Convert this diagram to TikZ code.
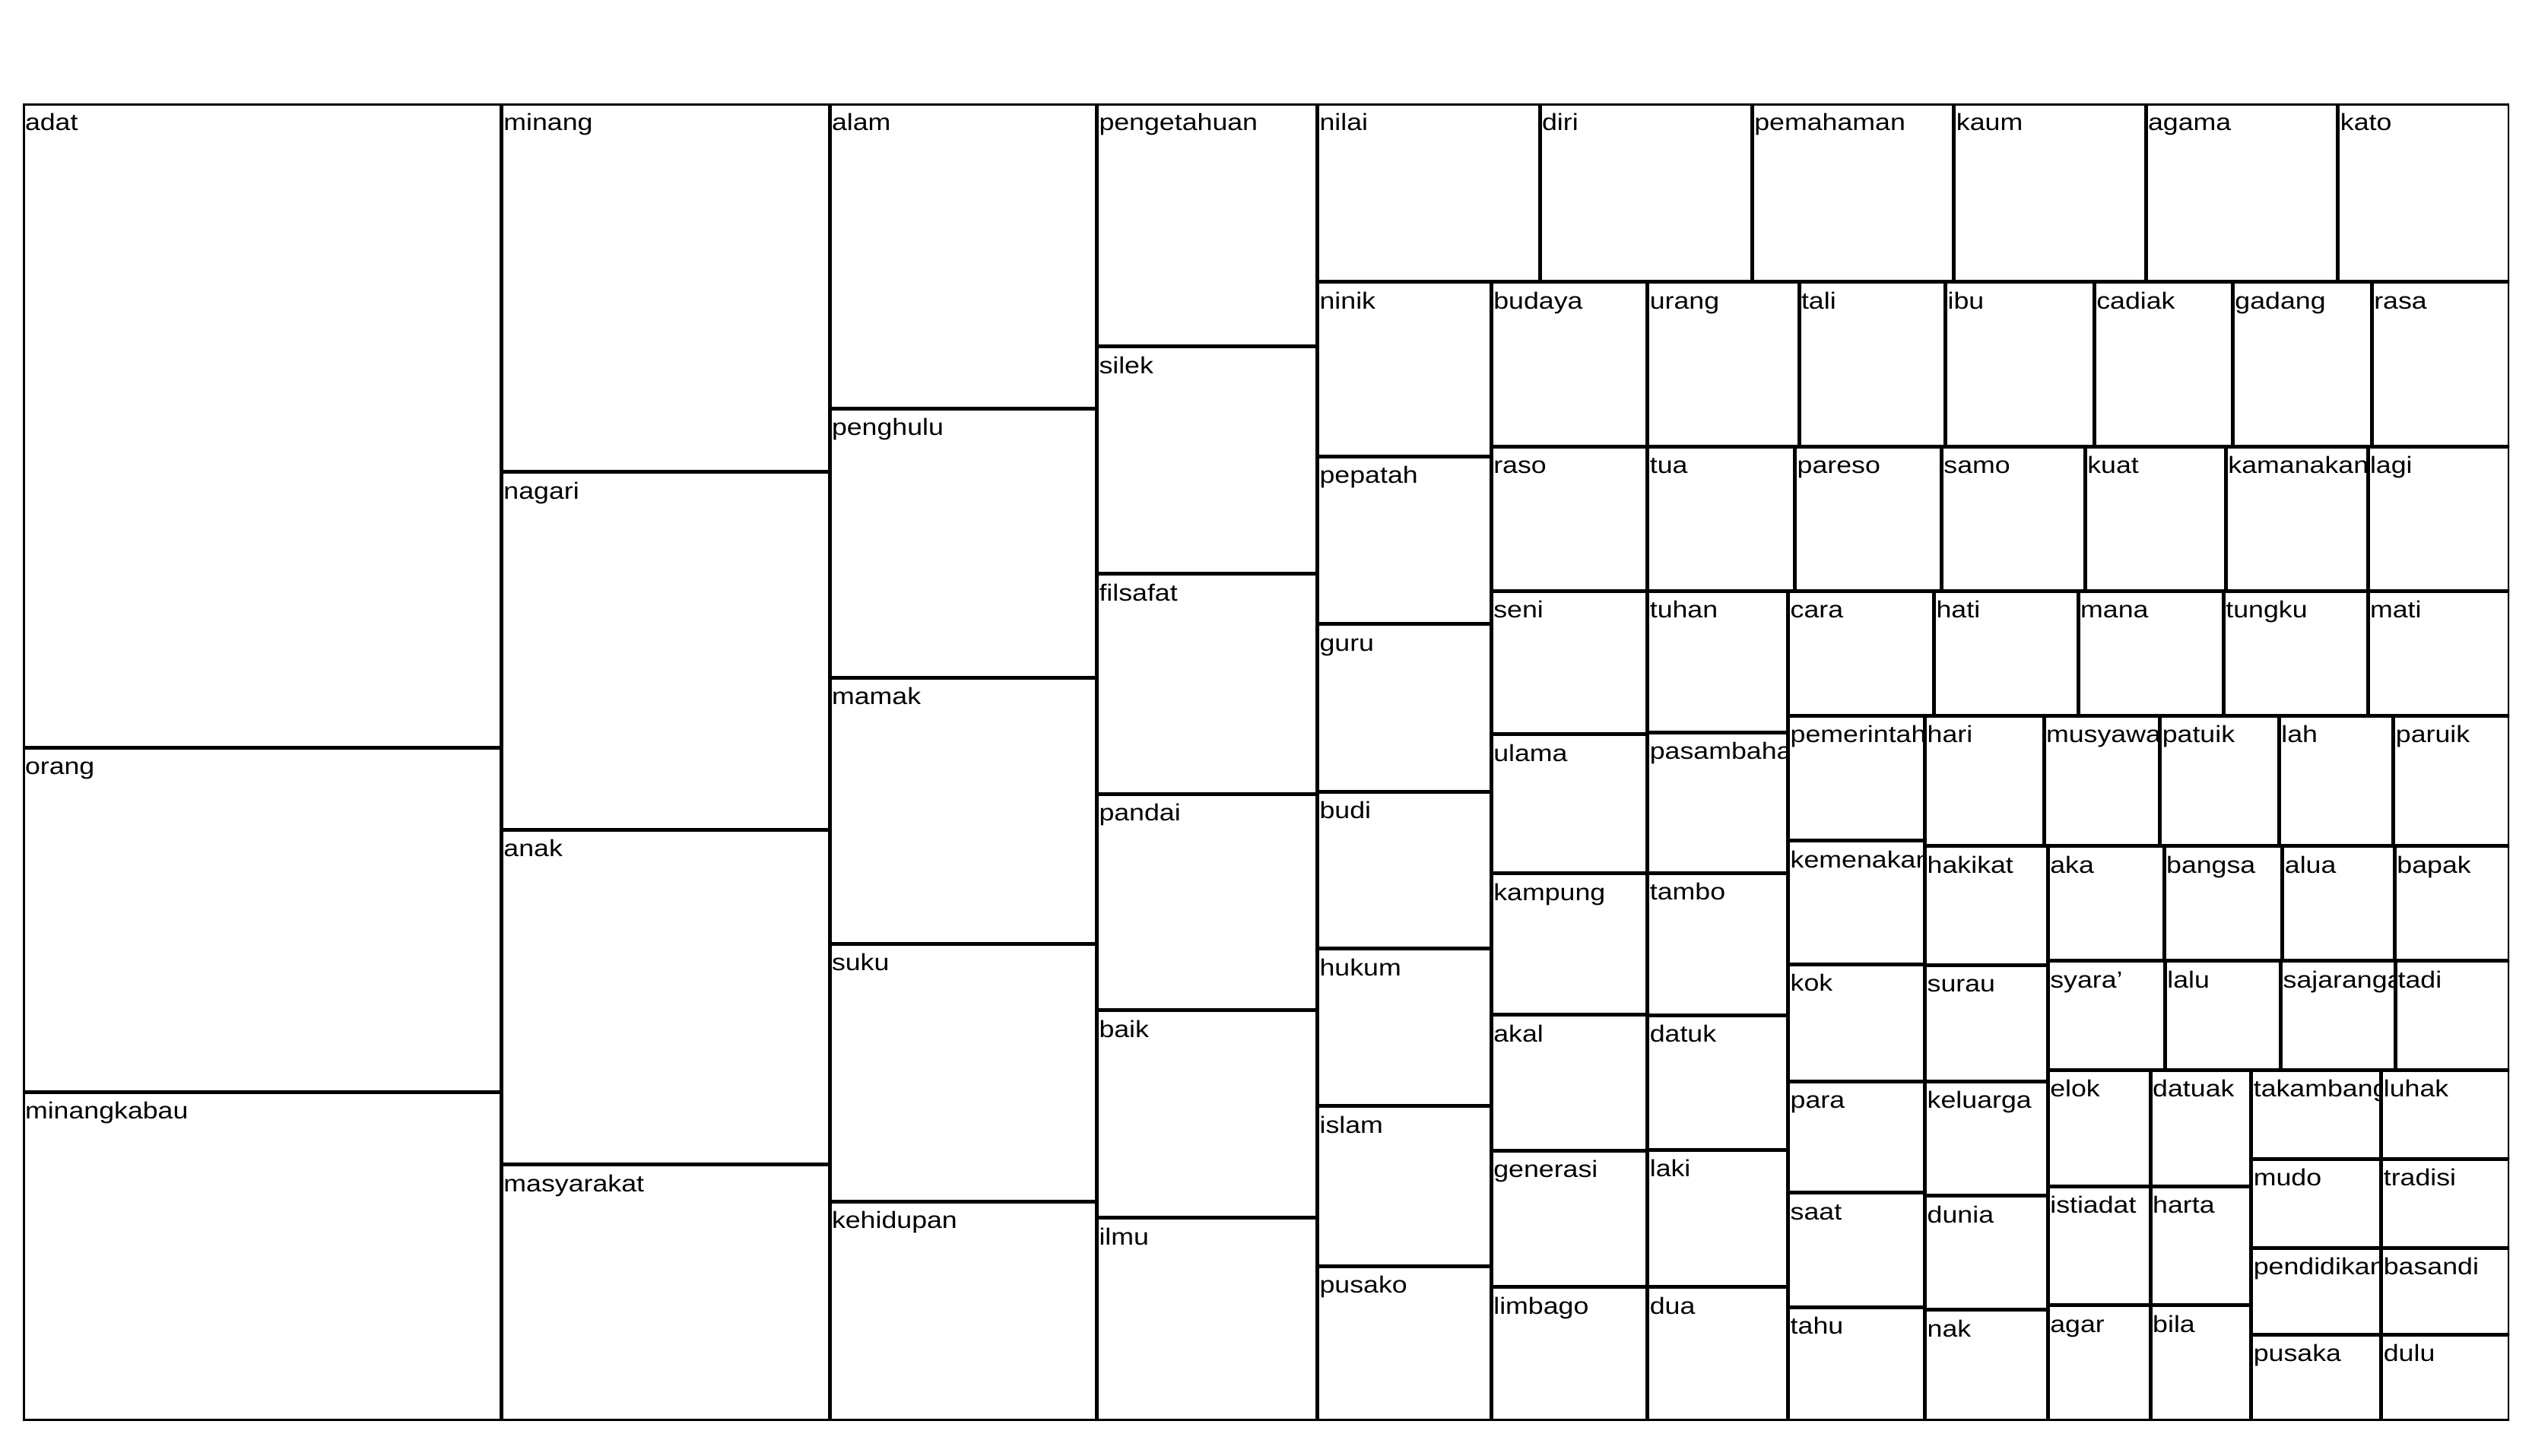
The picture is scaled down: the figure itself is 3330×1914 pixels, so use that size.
\documentclass[tikz,border=0pt]{standalone}
\usepackage{fontspec}
\setmainfont{Liberation Sans}[FakeStretch=1.16]
\tikzset{
  cellline/.style={draw=black, line width=5pt},
  lbl/.style={anchor=base west, inner sep=0pt, outer sep=0pt, text=black,
    font=\fontsize{30.8}{37}\selectfont}
}
\newcommand\tmlabel[6]{%
  \begin{scope}
    \clip (#2,#3) rectangle (#4,#5);
    \node[lbl] (#1) at ({#2+3},{#3+35.5}) {#6};
  \end{scope}}
\newcommand\tmbox[6]{\draw[cellline] (#2,#3) rectangle (#4,#5);}
\newcommand\celllist{%
\tmcell{adat}{30}{136}{659.4}{983}{adat}
\tmcell{orang}{30}{983}{659.4}{1436.3}{orang}
\tmcell{minangkabau}{30}{1436.3}{659.4}{1868}{minangkabau}
\tmcell{minang}{659.4}{136}{1091}{620.6}{minang}
\tmcell{nagari}{659.4}{620.6}{1091}{1091.4}{nagari}
\tmcell{anak}{659.4}{1091.4}{1091}{1531.6}{anak}
\tmcell{masyarakat}{659.4}{1531.6}{1091}{1868}{masyarakat}
\tmcell{alam}{1091}{136}{1442.5}{537.4}{alam}
\tmcell{penghulu}{1091}{537.4}{1442.5}{891}{penghulu}
\tmcell{mamak}{1091}{891}{1442.5}{1241.4}{mamak}
\tmcell{suku}{1091}{1241.4}{1442.5}{1580.2}{suku}
\tmcell{kehidupan}{1091}{1580.2}{1442.5}{1868}{kehidupan}
\tmcell{pengetahuan}{1442.5}{136}{1732.6}{455.9}{pengetahuan}
\tmcell{silek}{1442.5}{455.9}{1732.6}{754.9}{silek}
\tmcell{filsafat}{1442.5}{754.9}{1732.6}{1044.1}{filsafat}
\tmcell{pandai}{1442.5}{1044.1}{1732.6}{1328.7}{pandai}
\tmcell{baik}{1442.5}{1328.7}{1732.6}{1601.7}{baik}
\tmcell{ilmu}{1442.5}{1601.7}{1732.6}{1868}{ilmu}
\tmcell{nilai}{1732.6}{136}{2025.1}{370.9}{nilai}
\tmcell{diri}{2025.1}{136}{2304.3}{370.9}{diri}
\tmcell{pemahaman}{2304.3}{136}{2569.9}{370.9}{pemahaman}
\tmcell{kaum}{2569.9}{136}{2822}{370.9}{kaum}
\tmcell{agama}{2822}{136}{3074.9}{370.9}{agama}
\tmcell{kato}{3074.9}{136}{3300}{370.9}{kato}
\tmcell{ninik}{1732.6}{370.9}{1961.3}{600}{ninik}
\tmcell{pepatah}{1732.6}{600}{1961.3}{820.9}{pepatah}
\tmcell{guru}{1732.6}{820.9}{1961.3}{1041}{guru}
\tmcell{budi}{1732.6}{1041}{1961.3}{1247.6}{budi}
\tmcell{hukum}{1732.6}{1247.6}{1961.3}{1454.7}{hukum}
\tmcell{islam}{1732.6}{1454.7}{1961.3}{1665}{islam}
\tmcell{pusako}{1732.6}{1665}{1961.3}{1868}{pusako}
\tmcell{budaya}{1961.3}{370.9}{2166.8}{587}{budaya}
\tmcell{urang}{2166.8}{370.9}{2366}{587}{urang}
\tmcell{tali}{2366}{370.9}{2558.6}{587}{tali}
\tmcell{ibu}{2558.6}{370.9}{2754.3}{587}{ibu}
\tmcell{cadiak}{2754.3}{370.9}{2936.4}{587}{cadiak}
\tmcell{gadang}{2936.4}{370.9}{3119.3}{587}{gadang}
\tmcell{rasa}{3119.3}{370.9}{3300}{587}{rasa}
\tmcell{raso}{1961.3}{587}{2166.8}{777.3}{raso}
\tmcell{tua}{2166.8}{587}{2360.7}{777.3}{tua}
\tmcell{pareso}{2360.7}{587}{2553.4}{777.3}{pareso}
\tmcell{samo}{2553.4}{587}{2742.3}{777.3}{samo}
\tmcell{kuat}{2742.3}{587}{2927.4}{777.3}{kuat}
\tmcell{kamanakan}{2927.4}{587}{3114}{777.3}{kamanakan}
\tmcell{lagi}{3114}{587}{3300}{777.3}{lagi}
\tmcell{seni}{1961.3}{777.3}{2166.8}{965.5}{seni}
\tmcell{tuhan}{2166.8}{777.3}{2351.7}{963.3}{tuhan}
\tmcell{cara}{2351.7}{777.3}{2543.6}{941.3}{cara}
\tmcell{hati}{2543.6}{777.3}{2733.2}{941.3}{hati}
\tmcell{mana}{2733.2}{777.3}{2924.4}{941.3}{mana}
\tmcell{tungku}{2924.4}{777.3}{3114}{941.3}{tungku}
\tmcell{mati}{3114}{777.3}{3300}{941.3}{mati}
\tmcell{ulama}{1961.3}{965.5}{2166.8}{1148.6}{ulama}
\tmcell{kampung}{1961.3}{1148.6}{2166.8}{1334.9}{kampung}
\tmcell{akal}{1961.3}{1334.9}{2166.8}{1513.1}{akal}
\tmcell{generasi}{1961.3}{1513.1}{2166.8}{1692.7}{generasi}
\tmcell{limbago}{1961.3}{1692.7}{2166.8}{1868}{limbago}
\tmcell{pasambahan}{2166.8}{963.3}{2351.7}{1148.4}{pasambahan}
\tmcell{tambo}{2166.8}{1148.4}{2351.7}{1335}{tambo}
\tmcell{datuk}{2166.8}{1335}{2351.7}{1512}{datuk}
\tmcell{laki}{2166.8}{1512}{2351.7}{1692.5}{laki}
\tmcell{dua}{2166.8}{1692.5}{2351.7}{1868}{dua}
\tmcell{pemerintah}{2351.7}{941.3}{2531.7}{1105.7}{pemerintah}
\tmcell{kemenakan}{2351.7}{1105.7}{2531.7}{1268.3}{kemenakan}
\tmcell{kok}{2351.7}{1268.3}{2531.7}{1422.3}{kok}
\tmcell{para}{2351.7}{1422.3}{2531.7}{1568.7}{para}
\tmcell{saat}{2351.7}{1568.7}{2531.7}{1719}{saat}
\tmcell{tahu}{2351.7}{1719}{2531.7}{1868}{tahu}
\tmcell{hari}{2531.7}{941.3}{2688}{1112.8}{hari}
\tmcell{musyawa}{2688}{941.3}{2840.8}{1112.8}{musyawa}
\tmcell{patuik}{2840.8}{941.3}{2997.4}{1112.8}{patuik}
\tmcell{lah}{2997.4}{941.3}{3147.9}{1112.8}{lah}
\tmcell{paruik}{3147.9}{941.3}{3300}{1112.8}{paruik}
\tmcell{hakikat}{2531.7}{1112.8}{2693.3}{1269}{hakikat}
\tmcell{surau}{2531.7}{1269}{2693.3}{1422.3}{surau}
\tmcell{keluarga}{2531.7}{1422.3}{2693.3}{1572.5}{keluarga}
\tmcell{dunia}{2531.7}{1572.5}{2693.3}{1722.7}{dunia}
\tmcell{nak}{2531.7}{1722.7}{2693.3}{1868}{nak}
\tmcell{aka}{2693.3}{1112.8}{2846.1}{1263.5}{aka}
\tmcell{bangsa}{2846.1}{1112.8}{3001.9}{1263.5}{bangsa}
\tmcell{alua}{3001.9}{1112.8}{3149.4}{1263.5}{alua}
\tmcell{bapak}{3149.4}{1112.8}{3300}{1263.5}{bapak}
\tmcell{syara}{2693.3}{1263.5}{2847.3}{1407}{syara’}
\tmcell{lalu}{2847.3}{1263.5}{2999.6}{1407}{lalu}
\tmcell{sajaranga}{2999.6}{1263.5}{3150.6}{1407}{sajaranga}
\tmcell{tadi}{3150.6}{1263.5}{3300}{1407}{tadi}
\tmcell{elok}{2693.3}{1407}{2828.2}{1560}{elok}
\tmcell{istiadat}{2693.3}{1560}{2828.2}{1716.5}{istiadat}
\tmcell{agar}{2693.3}{1716.5}{2828.2}{1868}{agar}
\tmcell{datuak}{2828.2}{1407}{2960.8}{1560}{datuak}
\tmcell{harta}{2828.2}{1560}{2960.8}{1716.5}{harta}
\tmcell{bila}{2828.2}{1716.5}{2960.8}{1868}{bila}
\tmcell{takambang}{2960.8}{1407}{3131.8}{1524}{takambang}
\tmcell{mudo}{2960.8}{1524}{3131.8}{1641}{mudo}
\tmcell{pendidikan}{2960.8}{1641}{3131.8}{1755}{pendidikan}
\tmcell{pusaka}{2960.8}{1755}{3131.8}{1868}{pusaka}
\tmcell{luhak}{3131.8}{1407}{3300}{1524}{luhak}
\tmcell{tradisi}{3131.8}{1524}{3300}{1641}{tradisi}
\tmcell{basandi}{3131.8}{1641}{3300}{1755}{basandi}
\tmcell{dulu}{3131.8}{1755}{3300}{1868}{dulu}
}
\begin{document}
\begin{tikzpicture}[x=1pt,y=-1pt]
  \fill[white] (0,0) rectangle (3330,1914);
  \useasboundingbox (0,0) rectangle (3330,1914);
  \let\tmcell\tmlabel
  \celllist
  \begin{scope}
    \clip (30,136) rectangle (3300,1868);
    \let\tmcell\tmbox
    \celllist
  \end{scope}
\end{tikzpicture}
\end{document}
